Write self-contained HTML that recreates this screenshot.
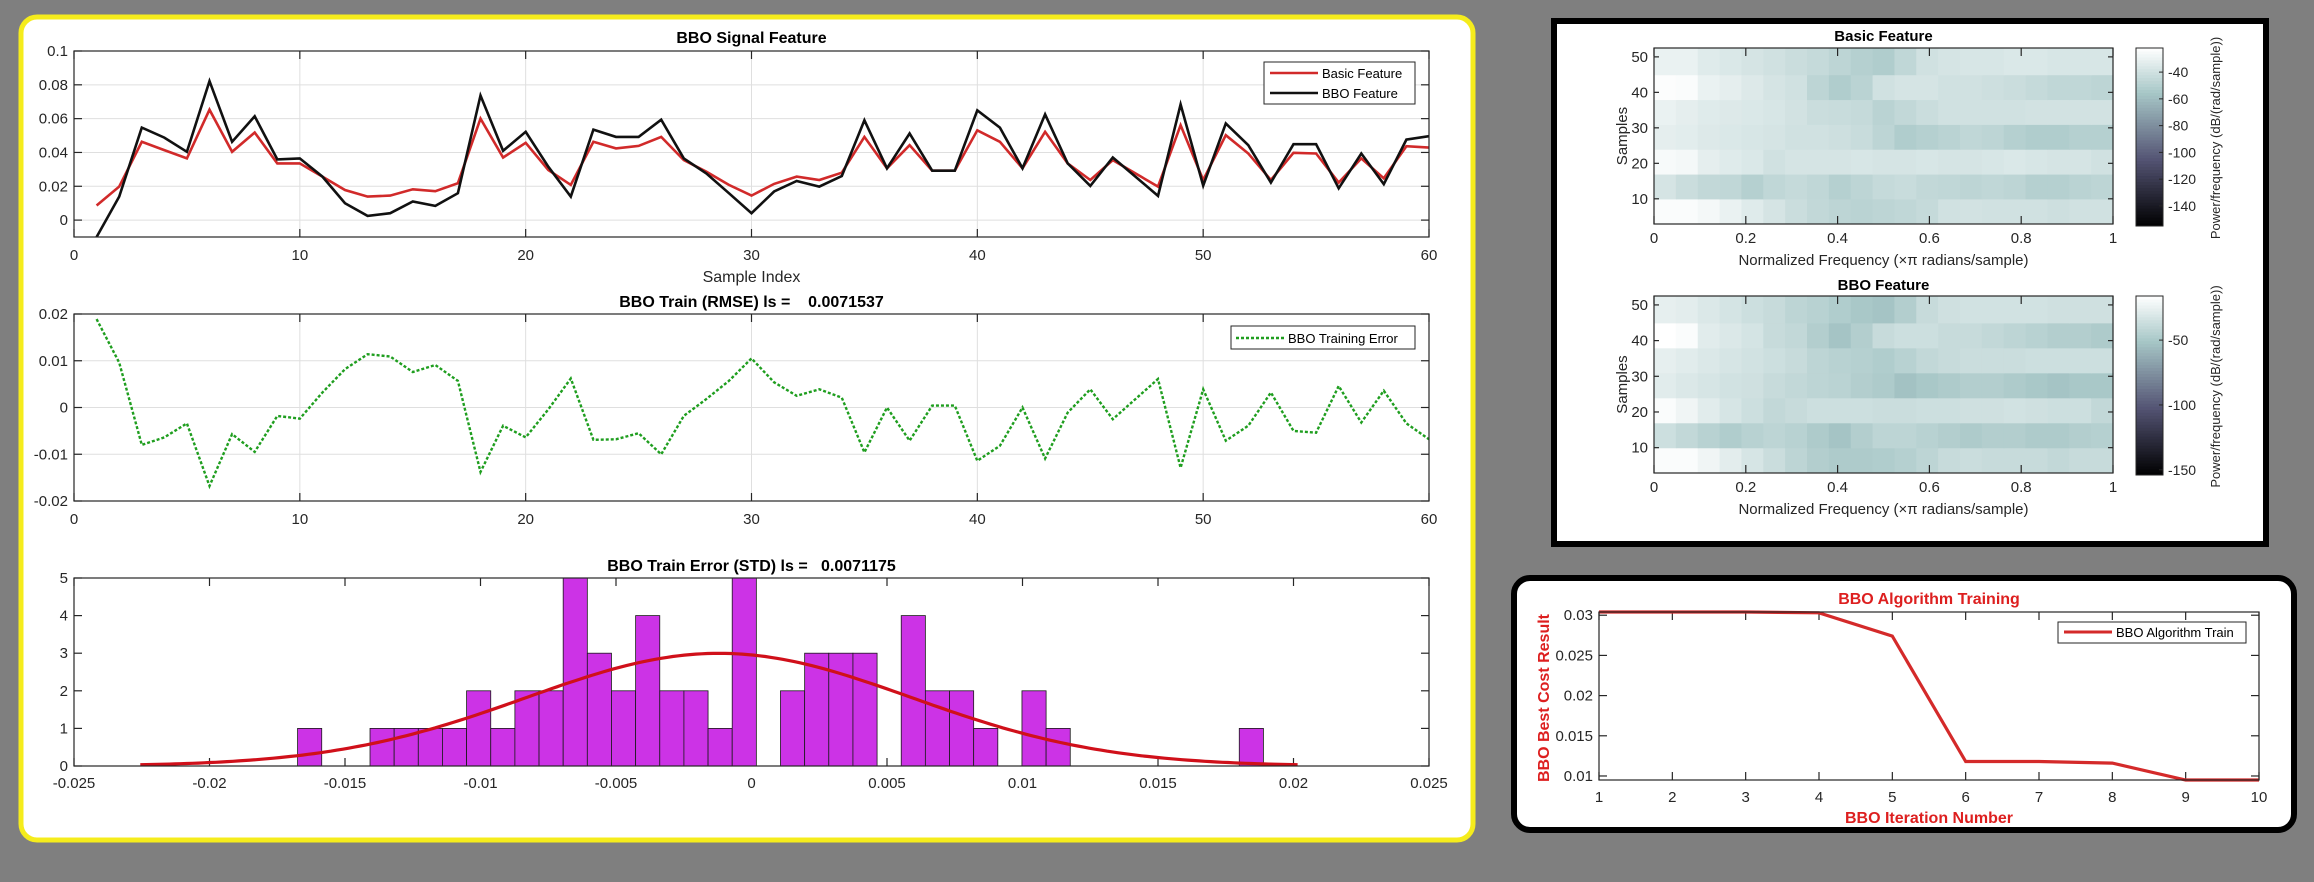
<!DOCTYPE html>
<html><head><meta charset="utf-8">
<style>
html,body{margin:0;padding:0;background:#808080;}
svg{display:block;font-family:"Liberation Sans",Arial,sans-serif;}
</style></head>
<body>
<svg id="root" xmlns="http://www.w3.org/2000/svg" width="2314" height="882" viewBox="0 0 2314 882">
  <defs>
    <linearGradient id="bone1" x1="0" y1="1" x2="0" y2="0"></linearGradient>
  </defs>
  <rect x="0" y="0" width="2314" height="882" fill="#7f7f7f"/>
  <rect x="21" y="17" width="1452" height="823" rx="16" fill="#ffffff" stroke="#f5ec1c" stroke-width="5"/>
  <rect x="1554" y="21" width="712" height="523" fill="#ffffff" stroke="#000000" stroke-width="6"/>
  <rect x="1514" y="578" width="780" height="252" rx="16" fill="#ffffff" stroke="#000000" stroke-width="6"/>
  <g id="layer"></g>
</svg>
<script>
// ---------- DATA ----------
const sampleIndex = [];
for (let i = 1; i <= 60; i++) sampleIndex.push(i);
const basicFeature = [0.0086,0.0198,0.0463,0.0414,0.0365,0.0653,0.0404,0.0518,0.0335,0.0335,
0.0257,0.0178,0.0139,0.0145,0.0182,0.0171,0.0218,0.0600,0.0370,0.0457,
0.0296,0.0208,0.0463,0.0424,0.0439,0.0492,0.0355,0.0286,0.0208,0.0145,
0.0214,0.0257,0.0237,0.0280,0.0492,0.0306,0.0443,0.0292,0.0292,0.0531,
0.0463,0.0306,0.0522,0.0335,0.0237,0.0355,0.0276,0.0198,0.0561,0.0237,
0.0502,0.0394,0.0237,0.0398,0.0394,0.0222,0.0365,0.0247,0.0437,0.0429];
const bboFeature = [-0.0100,0.0139,0.0547,0.0488,0.0404,0.0822,0.0463,0.0614,0.0359,0.0365,
0.0257,0.0100,0.0025,0.0041,0.0110,0.0084,0.0159,0.0737,0.0410,0.0522,
0.0316,0.0139,0.0535,0.0492,0.0492,0.0594,0.0365,0.0276,0.0159,0.0041,
0.0169,0.0231,0.0198,0.0261,0.0590,0.0306,0.0512,0.0292,0.0292,0.0649,
0.0547,0.0306,0.0625,0.0335,0.0202,0.0370,0.0257,0.0143,0.0684,0.0204,
0.0571,0.0443,0.0222,0.0449,0.0449,0.0188,0.0394,0.0212,0.0476,0.0496];
const trainError = [0.0189,0.0096,-0.0080,-0.0064,-0.0034,-0.0168,-0.0057,-0.0095,-0.0018,-0.0024,
0.0032,0.0082,0.0114,0.0109,0.0076,0.0091,0.0057,-0.0138,-0.0039,-0.0064,
-0.0004,0.0062,-0.0069,-0.0068,-0.0055,-0.0100,-0.0018,0.0018,0.0057,0.0105,
0.0054,0.0025,0.0039,0.0021,-0.0096,0.0000,-0.0071,0.0004,0.0004,-0.0114,
-0.0082,0.0000,-0.0109,-0.0011,0.0039,-0.0025,0.0018,0.0061,-0.0129,0.0039,
-0.0071,-0.0039,0.0032,-0.0050,-0.0054,0.0046,-0.0032,0.0036,-0.0034,-0.0068];
const histStart = -0.01675;
const histBinWidth = 0.000891;
const histCounts = [1,0,0,1,1,1,1,2,1,2,2,5,3,2,4,2,2,1,5,0,2,3,3,3,0,4,2,2,1,0,2,1,0,0,0,0,0,0,0,1];
const fitMean = -0.0012;
const fitStd = 0.0071175;
const iterations = [1,2,3,4,5,6,7,8,9,10];
const bestCost = [0.0304,0.0304,0.0304,0.0303,0.0274,0.0118,0.0118,0.0116,0.0095,0.0095];
const specFreqs = [0,0.05,0.1,0.15,0.2,0.25,0.3,0.35,0.4,0.45,0.5,0.55,0.6,0.65,0.7,0.75,0.8,0.85,0.9,0.95,1.0];
const specRowStarts = [3,10,17,24,31,38,45];
const basicSpec = [
[-24,-24,-26,-30,-34,-38,-42,-45,-47,-48,-47,-46,-44,-40,-39,-40,-40,-40,-41,-40,-40],
[-38,-42,-45,-46,-50,-46,-44,-46,-50,-47,-44,-43,-45,-46,-47,-46,-47,-50,-50,-48,-47],
[-25,-26,-32,-34,-36,-40,-38,-38,-38,-37,-38,-38,-37,-38,-38,-37,-36,-37,-38,-38,-40],
[-32,-33,-35,-36,-37,-38,-40,-40,-41,-43,-47,-52,-50,-48,-46,-47,-50,-52,-52,-50,-50],
[-30,-32,-34,-35,-36,-37,-39,-42,-43,-44,-48,-45,-42,-40,-40,-40,-40,-39,-39,-39,-39],
[-23,-24,-30,-32,-35,-38,-40,-47,-52,-48,-40,-38,-38,-40,-40,-41,-42,-44,-46,-46,-47],
[-30,-30,-34,-36,-38,-40,-42,-44,-47,-50,-52,-46,-40,-38,-37,-37,-36,-36,-37,-37,-37]];
const bboSpec = [
[-18,-18,-22,-27,-32,-37,-42,-46,-48,-48,-47,-45,-42,-38,-37,-38,-38,-38,-40,-38,-38],
[-36,-40,-44,-47,-44,-42,-44,-48,-52,-46,-42,-42,-44,-46,-48,-46,-46,-48,-48,-46,-45],
[-18,-22,-28,-32,-36,-40,-38,-36,-36,-36,-37,-37,-36,-36,-35,-35,-34,-35,-36,-36,-40],
[-28,-30,-32,-34,-35,-38,-40,-42,-43,-46,-48,-53,-50,-48,-46,-46,-48,-50,-52,-50,-50],
[-26,-28,-30,-32,-34,-36,-38,-42,-44,-45,-47,-44,-40,-38,-37,-37,-37,-36,-36,-36,-36],
[-16,-18,-28,-30,-33,-38,-40,-46,-52,-46,-38,-36,-36,-38,-38,-40,-42,-44,-46,-46,-48],
[-26,-27,-30,-33,-36,-38,-42,-44,-47,-50,-52,-46,-38,-35,-34,-34,-34,-34,-35,-35,-35]];

// ---------- HELPERS ----------
const NS = "http://www.w3.org/2000/svg";
const layer = document.getElementById('layer');
function mk(tag, attrs, parent) {
  const e = document.createElementNS(NS, tag);
  for (const k in attrs) e.setAttribute(k, attrs[k]);
  (parent || layer).appendChild(e);
  return e;
}
function txt(str, x, y, size, opts, parent) {
  opts = opts || {};
  const e = mk('text', {x: x, y: y, 'font-size': size, fill: opts.fill || '#262626',
    'text-anchor': opts.anchor || 'middle', 'font-weight': opts.weight || 'normal'}, parent);
  if (opts.rotate) e.setAttribute('transform', 'rotate(-90 ' + x + ' ' + y + ')');
  e.textContent = str;
  return e;
}
function scale(d0, d1, r0, r1) { return v => r0 + (v - d0) / (d1 - d0) * (r1 - r0); }
function bone(t) {
  t = Math.max(0, Math.min(1, t));
  const hr = Math.min(1, t / 0.375), hg = Math.max(0, Math.min(1, (t - 0.375) / 0.375)), hb = Math.max(0, Math.min(1, (t - 0.75) / 0.25));
  const r = (7 * t + hb) / 8, g = (7 * t + hg) / 8, b = (7 * t + hr) / 8;
  return 'rgb(' + Math.round(r * 255) + ',' + Math.round(g * 255) + ',' + Math.round(b * 255) + ')';
}
function axesBox(x0, y0, x1, y1, name) {
  const r = mk('rect', {x: x0, y: y0, width: x1 - x0, height: y1 - y0, fill: 'none', stroke: '#262626', 'stroke-width': 1.2});
  
  
}
function xTicks(vals, labels, sx, y0, y1, labelY, grid, name) {
  const g = mk('g', {});
  
  
  vals.forEach((v, i) => {
    const x = sx(v);
    if (grid) mk('line', {x1: x, y1: y0, x2: x, y2: y1, stroke: '#dfdfdf', 'stroke-width': 1}, g);
    mk('line', {x1: x, y1: y1, x2: x, y2: y1 - 8, stroke: '#262626', 'stroke-width': 1.2}, g);
    mk('line', {x1: x, y1: y0, x2: x, y2: y0 + 8, stroke: '#262626', 'stroke-width': 1.2}, g);
    txt(labels[i], x, labelY, 15, {}, g);
  });
}
function yTicks(vals, labels, sy, x0, x1, grid, name, tickLen) {
  tickLen = tickLen || 8;
  const g = mk('g', {});
  
  
  vals.forEach((v, i) => {
    const y = sy(v);
    if (grid) mk('line', {x1: x0, y1: y, x2: x1, y2: y, stroke: '#dfdfdf', 'stroke-width': 1}, g);
    mk('line', {x1: x0, y1: y, x2: x0 + tickLen, y2: y, stroke: '#262626', 'stroke-width': 1.2}, g);
    mk('line', {x1: x1, y1: y, x2: x1 - tickLen, y2: y, stroke: '#262626', 'stroke-width': 1.2}, g);
    txt(labels[i], x0 - 6, y + 5, 15, {anchor: 'end'}, g);
  });
}
function polyline(xs, ys, sx, sy, attrs, name) {
  const pts = xs.map((x, i) => sx(x).toFixed(1) + ',' + sy(ys[i]).toFixed(1)).join(' ');
  const a = Object.assign({points: pts, fill: 'none'}, attrs);
  const p = mk('polyline', a);
  
  
  return p;
}

// ---------- PLOT 1 : Signal feature ----------
(function () {
  const x0 = 74, x1 = 1429, y0 = 51, y1 = 237;
  const sx = scale(0, 60, x0, x1), sy = scale(-0.01, 0.1, y1, y0);
  const xt = [0,10,20,30,40,50,60];
  xTicks(xt, xt.map(String), sx, y0, y1, 260, true, 'signal-x-ticks');
  const yt = [0,0.02,0.04,0.06,0.08,0.1];
  yTicks(yt, ['0','0.02','0.04','0.06','0.08','0.1'], sy, x0, x1, true, 'signal-y-ticks');
  const cp = mk('clipPath', {id: 'clip1'});
  mk('rect', {x: x0, y: y0, width: x1 - x0, height: y1 - y0}, cp);
  polyline(sampleIndex, basicFeature, sx, sy, {stroke: '#d12a2a', 'stroke-width': 2.6, 'clip-path': 'url(#clip1)'}, 'basic-feature-line');
  polyline(sampleIndex, bboFeature, sx, sy, {stroke: '#111111', 'stroke-width': 2.6, 'clip-path': 'url(#clip1)'}, 'bbo-feature-line');
  axesBox(x0, y0, x1, y1, 'signal-axes');
  const t = txt('BBO Signal Feature', (x0 + x1) / 2, 43, 16, {weight: 'bold', fill: '#000'});
  
  
  const xl = txt('Sample Index', (x0 + x1) / 2, 282, 16, {});
  
  
  const lg = mk('g', {});
  
  
  mk('rect', {x: 1264, y: 62, width: 151, height: 42, fill: '#fff', stroke: '#262626', 'stroke-width': 1}, lg);
  mk('line', {x1: 1270, y1: 73, x2: 1318, y2: 73, stroke: '#d12a2a', 'stroke-width': 2.6}, lg);
  txt('Basic Feature', 1322, 78, 13, {anchor: 'start', fill: '#000'}, lg);
  mk('line', {x1: 1270, y1: 93, x2: 1318, y2: 93, stroke: '#111', 'stroke-width': 2.6}, lg);
  txt('BBO Feature', 1322, 98, 13, {anchor: 'start', fill: '#000'}, lg);
})();

// ---------- PLOT 2 : RMSE error ----------
(function () {
  const x0 = 74, x1 = 1429, y0 = 314, y1 = 501;
  const sx = scale(0, 60, x0, x1), sy = scale(-0.02, 0.02, y1, y0);
  const xt = [0,10,20,30,40,50,60];
  xTicks(xt, xt.map(String), sx, y0, y1, 524, true, 'error-x-ticks');
  const yt = [-0.02,-0.01,0,0.01,0.02];
  yTicks(yt, ['-0.02','-0.01','0','0.01','0.02'], sy, x0, x1, true, 'error-y-ticks');
  polyline(sampleIndex, trainError, sx, sy, {stroke: '#1f9e1f', 'stroke-width': 2.4, 'stroke-dasharray': '3,2'}, 'training-error-line');
  axesBox(x0, y0, x1, y1, 'error-axes');
  const t = txt('BBO Train (RMSE) ls =    0.0071537', (x0 + x1) / 2, 307, 16, {weight: 'bold', fill: '#000'});
  
  
  t.setAttribute('xml:space', 'preserve');
  t.style.whiteSpace = 'pre';
  const lg = mk('g', {});
  
  
  mk('rect', {x: 1231, y: 326, width: 184, height: 23, fill: '#fff', stroke: '#262626', 'stroke-width': 1}, lg);
  mk('line', {x1: 1236, y1: 338, x2: 1284, y2: 338, stroke: '#1f9e1f', 'stroke-width': 2.4, 'stroke-dasharray': '3,2'}, lg);
  txt('BBO Training Error', 1288, 343, 13, {anchor: 'start', fill: '#000'}, lg);
})();

// ---------- PLOT 3 : Histogram ----------
(function () {
  const x0 = 74, x1 = 1429, y0 = 578, y1 = 766;
  const sx = scale(-0.025, 0.025, x0, x1), sy = scale(0, 5, y1, y0);
  const xt = [-0.025,-0.02,-0.015,-0.01,-0.005,0,0.005,0.01,0.015,0.02,0.025];
  xTicks(xt, ['-0.025','-0.02','-0.015','-0.01','-0.005','0','0.005','0.01','0.015','0.02','0.025'], sx, y0, y1, 788, false, 'hist-x-ticks');
  const yt = [0,1,2,3,4,5];
  yTicks(yt, yt.map(String), sy, x0, x1, false, 'hist-y-ticks');
  histCounts.forEach((c, i) => {
    if (c <= 0) return;
    const a = histStart + i * histBinWidth, b = a + histBinWidth;
    const r = mk('rect', {x: sx(a), y: sy(c), width: sx(b) - sx(a), height: sy(0) - sy(c), fill: '#cc33e6', stroke: '#1a1a1a', 'stroke-width': 0.8});
    
    
  });
  const total = histCounts.reduce((s, v) => s + v, 0);
  const xs = [], ys = [];
  for (let k = 0; k <= 200; k++) {
    const x = fitMean - 3 * fitStd + k * (6 * fitStd / 200);
    xs.push(x);
    ys.push(total * histBinWidth * Math.exp(-0.5 * ((x - fitMean) / fitStd) ** 2) / (fitStd * Math.sqrt(2 * Math.PI)));
  }
  polyline(xs, ys, sx, sy, {stroke: '#d0101a', 'stroke-width': 3.2}, 'normal-fit-curve');
  axesBox(x0, y0, x1, y1, 'hist-axes');
  const t = txt('BBO Train Error (STD) ls =   0.0071175', (x0 + x1) / 2, 571, 16, {weight: 'bold', fill: '#000'});
  
  
  t.style.whiteSpace = 'pre';
})();

// ---------- SPECTROGRAMS ----------
function spectrum(spec, y0, y1, vmin, vmax, cbTicks, title, titleY, prefix) {
  const x0 = 1654, x1 = 2113;
  const sx = scale(0, 1, x0, x1), sy = scale(2.9, 52.5, y1, y0);
  const colW = 1 / specFreqs.length;
  const g = mk('g', {});
  
  
  spec.forEach((row, ri) => {
    const r0 = specRowStarts[ri], r1 = ri < specRowStarts.length - 1 ? specRowStarts[ri + 1] : 52.5;
    row.forEach((v, ci) => {
      const fa = ci * colW, fb = fa + colW;
      const c = mk('rect', {x: sx(fa), y: sy(r1), width: sx(fb) - sx(fa) + 0.6, height: sy(r0) - sy(r1) + 0.6, fill: bone((v - vmin) / (vmax - vmin))}, g);
      
      
    });
  });
  const xt = [0,0.2,0.4,0.6,0.8,1];
  xTicks(xt, ['0','0.2','0.4','0.6','0.8','1'], sx, y0, y1, y1 + 19, false, prefix + '-x-ticks');
  const yt = [10,20,30,40,50];
  yTicks(yt, yt.map(String), sy, x0, x1, false, prefix + '-y-ticks', 5);
  axesBox(x0, y0, x1, y1, prefix + '-axes');
  const t = txt(title, (x0 + x1) / 2, titleY, 15, {weight: 'bold', fill: '#000'});
  
  
  const xl = txt('Normalized Frequency (\u00d7\u03c0 radians/sample)', (x0 + x1) / 2, y1 + 41, 15, {});
  
  
  const yl = txt('Samples', 1627, (y0 + y1) / 2, 15, {rotate: true});
  
  
  // colorbar
  const cx0 = 2136, cx1 = 2163;
  const cy = scale(vmin, vmax, y1 + 2, y0);
  const cb = mk('g', {});
  
  
  const steps = 60;
  for (let k = 0; k < steps; k++) {
    const va = vmin + k * (vmax - vmin) / steps, vb = vmin + (k + 1) * (vmax - vmin) / steps;
    mk('rect', {x: cx0, y: cy(vb), width: cx1 - cx0, height: cy(va) - cy(vb) + 0.5, fill: bone((va + vb) / 2 / 1 === 0 ? 0 : ((va + vb) / 2 - vmin) / (vmax - vmin))}, cb);
  }
  mk('rect', {x: cx0, y: y0, width: cx1 - cx0, height: y1 + 2 - y0, fill: 'none', stroke: '#262626', 'stroke-width': 1}, cb);
  cbTicks.forEach(v => {
    mk('line', {x1: cx1, y1: cy(v), x2: cx1 - 4, y2: cy(v), stroke: '#262626', 'stroke-width': 1}, cb);
    txt(String(v), cx1 + 5, cy(v) + 5, 14, {anchor: 'start'}, cb);
  });
  const cl = txt('Power/frequency (dB/(rad/sample))', 2220, (y0 + y1) / 2 + 2, 13, {rotate: true});
  
  
}
spectrum(basicSpec, 48, 224, -155, -22, [-40,-60,-80,-100,-120,-140], 'Basic Feature', 41, 'basic-spectrum');
spectrum(bboSpec, 296, 473, -154, -16, [-50,-100,-150], 'BBO Feature', 290, 'bbo-spectrum');

// ---------- PLOT 4 : BBO algorithm training ----------
(function () {
  const x0 = 1599, x1 = 2259, y0 = 612, y1 = 780;
  const sx = scale(1, 10, x0, x1), sy = scale(0.0095, 0.0304, y1, y0);
  xTicks(iterations, iterations.map(String), sx, y0, y1, 802, false, 'training-x-ticks');
  const yt = [0.01,0.015,0.02,0.025,0.03];
  yTicks(yt, ['0.01','0.015','0.02','0.025','0.03'], sy, x0, x1, false, 'training-y-ticks');
  polyline(iterations, bestCost, sx, sy, {stroke: '#d42a2a', 'stroke-width': 3.2}, 'training-cost-line');
  axesBox(x0, y0, x1, y1, 'training-axes');
  const t = txt('BBO Algorithm Training', (x0 + x1) / 2, 604, 16, {weight: 'bold', fill: '#dd1f1f'});
  
  
  const xl = txt('BBO Iteration Number', (x0 + x1) / 2, 823, 16, {weight: 'bold', fill: '#dd1f1f'});
  
  
  const yl = txt('BBO Best Cost Result', 1549, (y0 + y1) / 2 + 2, 16, {weight: 'bold', fill: '#dd1f1f', rotate: true});
  
  
  const lg = mk('g', {});
  
  
  mk('rect', {x: 2058, y: 622, width: 188, height: 21, fill: '#fff', stroke: '#262626', 'stroke-width': 1}, lg);
  mk('line', {x1: 2064, y1: 632, x2: 2112, y2: 632, stroke: '#d42a2a', 'stroke-width': 3}, lg);
  txt('BBO Algorithm Train', 2116, 637, 13, {anchor: 'start', fill: '#000'}, lg);
})();
</script>
</body></html>
